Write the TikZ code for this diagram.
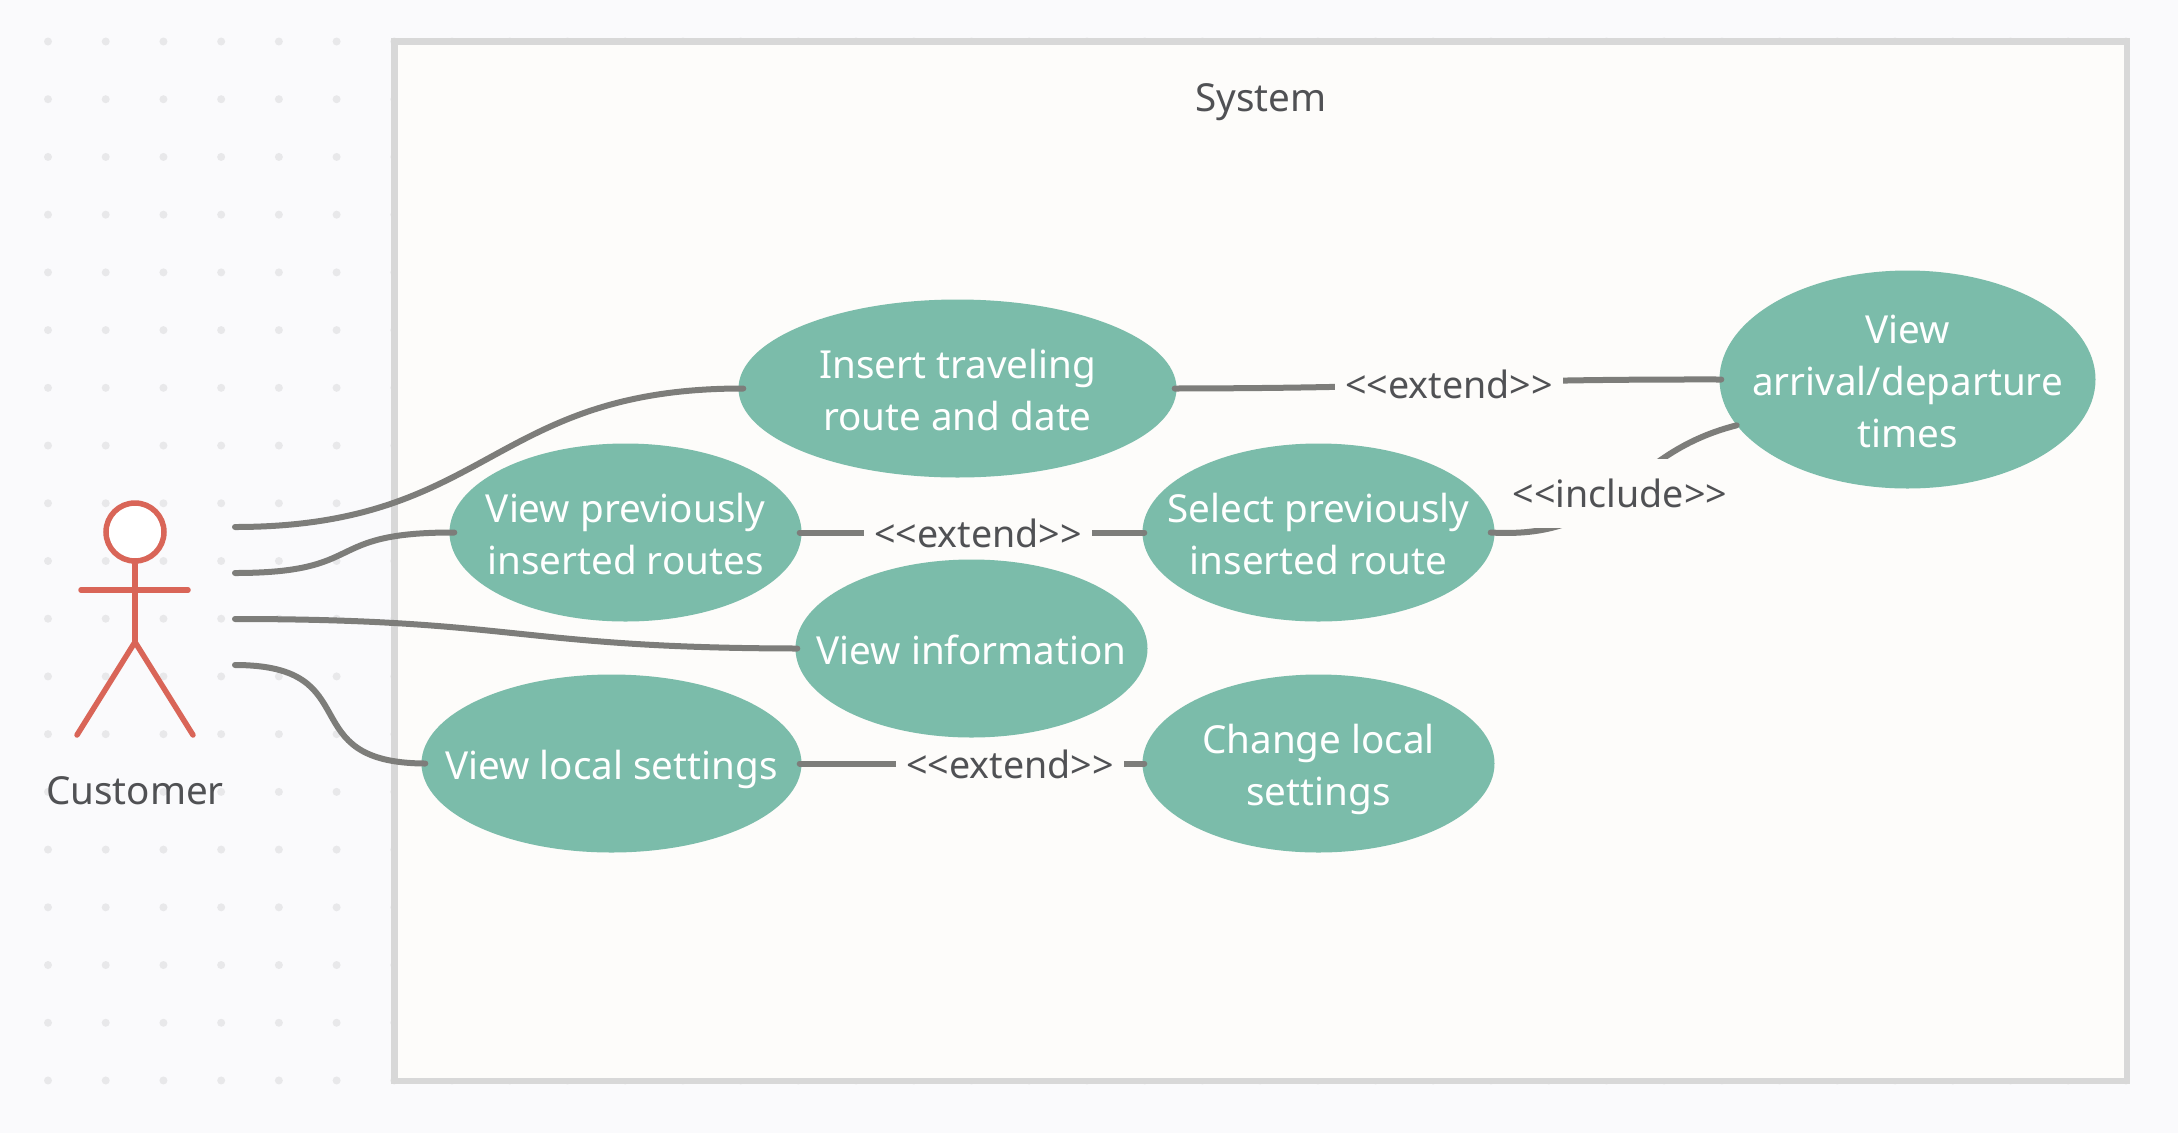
\documentclass[tikz,border=0pt]{standalone}
\usepackage{fontspec}
\setmainfont{Noto Sans}
\usetikzlibrary{shapes.geometric}
\definecolor{pagebg}{HTML}{FAFAFC}
\definecolor{griddot}{HTML}{E8E8EA}
\definecolor{framefill}{HTML}{FDFCFA}
\definecolor{framedraw}{HTML}{D8D8D8}
\definecolor{ucfill}{HTML}{7BBCAA}
\definecolor{ucline}{HTML}{7D7D7A}
\definecolor{actorc}{HTML}{D96558}
\definecolor{txt}{HTML}{505154}
\newcommand\lnstrut{\rule[-10.2pt]{0pt}{52pt}}
\tikzset{
  x=1pt,y=-1pt,
  usecase/.style={ellipse,fill=ucfill,text=white,inner xsep=-70pt,inner ysep=-30pt,
    minimum width=#1,minimum height=178pt,align=center,
    font=\fontsize{38.6}{52}\selectfont},
  conn/.style={draw=ucline,line width=6pt,line cap=round},
  rellabel/.style={fill=framefill,text=txt,inner xsep=10pt,inner ysep=0pt,minimum height=69pt,
    font=\fontsize{37.6}{44}\selectfont},
  plainlabel/.style={text=txt,inner sep=0pt,font=\fontsize{38.6}{44}\selectfont},
  actorline/.style={draw=actorc,line width=5.5pt,line cap=round,line join=round},
}
\begin{document}
\begin{tikzpicture}
\useasboundingbox (0,0) rectangle (2178,1133);
\fill[pagebg] (0,0) rectangle (2178,1133);
% dot grid
\foreach \i in {0,...,36}{
  \foreach \j in {0,...,18}{
    \fill[griddot] ({48+57.72*\i},{41.5+57.72*\j}) circle (4);
  }
}
% system frame
\draw[fill=framefill,draw=framedraw,line width=6.5pt] (394.5,41.5) rectangle (2127,1081);
\node[plainlabel] (system) at (1261,102) {System};

% use cases
\node[usecase=438pt] (insert) at (957.5,388.5) {\lnstrut Insert traveling\\\lnstrut route and date};
\node[usecase=352pt] (prev) at (625.5,532.5) {\lnstrut View previously\\\lnstrut inserted routes};
\node[usecase=352pt] (select) at (1318.5,532.5) {\lnstrut Select previously\\\lnstrut inserted route};
\node[usecase=376pt,minimum height=218pt] (arrival) at (1907.5,379.5) {\lnstrut View\\\lnstrut arrival/departure\\\lnstrut times};
\node[usecase=380pt] (local) at (611.5,763.5) {\lnstrut View local settings};
\node[usecase=352pt] (change) at (1318.5,763.5) {\lnstrut Change local\\\lnstrut settings};

% relations
\draw[conn] ([xshift=-2pt]insert.east) .. controls (1450,388) and (1450,379) .. ([xshift=2pt]arrival.west);
\node[rellabel] (l1) at (1449,384) {<{}<extend>{}>};
\draw[conn] ([xshift=-2pt]prev.east) -- ([xshift=2pt]select.west);
\node[rellabel] (l2) at (978,533) {<{}<extend>{}>};
\draw[conn] ([xshift=-2pt]local.east) -- ([xshift=2pt]change.west);
\node[rellabel] (l3) at (1010,764) {<{}<extend>{}>};
\draw[conn] ([xshift=-4pt]select.east) .. controls (1620,540) and (1620,455) .. (arrival.195.5);
\node[rellabel] (l4) at (1620,493) {<{}<include>{}>};

% drawn over the label boxes
\node[usecase=352pt] (info) at (971.5,648.5) {\lnstrut View information};

% actor
\node[circle,draw=actorc,fill=white,line width=5.5pt,minimum size=58pt,inner sep=0pt] (head) at (135,532) {};
\coordinate (hip) at (135,642);
\coordinate (armL) at (81,590);
\coordinate (armR) at (188,590);
\coordinate (legL) at (77,735);
\coordinate (legR) at (193,735);
\draw[actorline] (head.south) -- (hip);
\draw[actorline] (armL) -- (armR);
\draw[actorline] (legL) -- (hip) -- (legR);
\node[plainlabel] (customer) at (135,791) {Customer};

% actor association ends
\coordinate (a1) at (235,527);
\coordinate (a2) at (235,573);
\coordinate (a3) at (235,619);
\coordinate (a4) at (235,665);

\draw[conn] (a1) .. controls (490,527) and (490,388) .. ([xshift=5pt]insert.west);
\draw[conn] (a2) .. controls (370,573) and (320,532) .. ([xshift=5pt]prev.west);
\draw[conn] (a3) .. controls (518,619) and (518,648) .. ([xshift=2pt]info.west);
\draw[conn] (a4) .. controls (370,665) and (290,763) .. ([xshift=4pt]local.west);
\end{tikzpicture}
\end{document}
